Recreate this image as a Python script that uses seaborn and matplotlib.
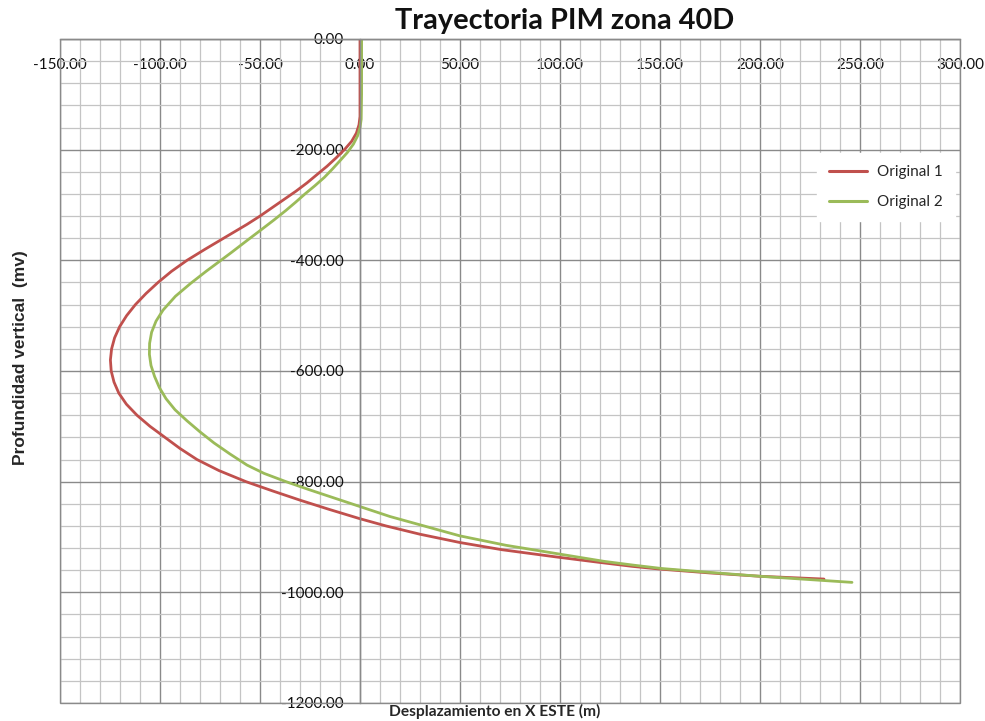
import matplotlib
matplotlib.use("Agg")
import matplotlib.pyplot as plt
from matplotlib.patches import Rectangle
from matplotlib.ticker import MultipleLocator, FixedLocator
import seaborn as sns
import pandas as pd

# Well trajectories: horizontal displacement (m, east) vs vertical depth (m)
orig1_x = [0, 0, 0, -0.5, -1.8, -4.2, -7.8, -12, -16.5, -21.5, -26.5, -32, -38, -44, -50,
           -56.5, -63.5, -70.5, -77.5, -86.5, -94.3, -101, -107, -112.3, -116.7, -120.2,
           -122.7, -124.2, -124.8, -124.4, -123, -120.6, -116.8, -111.5, -105, -97.5, -90,
           -81.5, -70.5, -57, -43.5, -29.5, -15.5, 0, 13, 30, 50, 71, 98, 120, 136, 150,
           175, 200, 232]
orig1_y = [0, -100, -140, -155, -170, -185, -200, -215, -230, -245, -260, -275, -290, -305, -320,
           -335, -350, -365, -380, -400, -420, -440, -460, -480, -500, -520,
           -540, -560, -580, -600, -620, -640, -660, -680, -700, -720, -740,
           -760, -780, -800, -817, -834, -850, -867, -880, -895, -910, -923, -936, -946, -953, -958,
           -965, -971, -976]

orig2_x = [0.8, 0.8, 0.6, 0, -1.2, -3.3, -6.3, -10, -13.8, -17.8, -22.5, -27.5, -32.2, -37.1,
           -43, -49.5, -56.8, -64, -70.3, -77, -84.8, -92.3, -98.5, -102, -104.2, -105.2,
           -105.3, -104.5, -102.7, -100.3, -97, -92.5, -86.5, -80, -73, -65, -56.5, -48, -37,
           -25, -12.5, 0, 15, 32, 50, 73, 100, 122, 137, 151, 175, 200, 225, 246]
orig2_y = [0, -100, -145, -160, -175, -190, -205, -220, -235, -250, -265, -280, -295, -310,
           -327, -345, -365, -385, -402, -420, -442, -465, -490, -510, -530, -550,
           -570, -590, -610, -630, -650, -670, -690, -710, -730, -750, -770, -785, -800,
           -815, -830, -845, -863, -880, -898, -915, -931, -944, -951, -957, -964, -971, -977, -982]

series_names = ["Original 1", "Original 2"]
series_colors = ["#C0504D", "#9BBB59"]

x_ticks = [-150, -100, -50, 0, 50, 100, 150, 200, 250, 300]
y_ticks = [0, -200, -400, -600, -800, -1000, -1200]

title = "Trayectoria PIM zona 40D"
x_label = "Desplazamiento en X ESTE (m)"
y_label = "Profundidad vertical  (mv)"

df = pd.concat([
    pd.DataFrame({"x": orig1_x, "y": orig1_y, "serie": series_names[0]}),
    pd.DataFrame({"x": orig2_x, "y": orig2_y, "serie": series_names[1]}),
], ignore_index=True)

sns.set_style("white")
plt.rcParams["font.family"] = ["Lato", "DejaVu Sans"]

fig = plt.figure(figsize=(9.85, 7.21), dpi=100)
ax = fig.add_axes([60 / 985, 1 - 703 / 721, 900 / 985, 664 / 721])

major_c = "#8A8A8A"
minor_c = "#C4C4C4"

ax.set_xlim(-150, 300)
ax.set_ylim(-1200, 0)
ax.xaxis.set_major_locator(FixedLocator(x_ticks))
ax.yaxis.set_major_locator(FixedLocator(y_ticks))
ax.xaxis.set_minor_locator(MultipleLocator(10))
ax.yaxis.set_minor_locator(MultipleLocator(40))
ax.grid(which="minor", color=minor_c, lw=0.9, zorder=0)
ax.grid(which="major", color=major_c, lw=1.0, zorder=0)
ax.set_axisbelow(True)

sns.lineplot(data=df, x="x", y="y", hue="serie", hue_order=series_names,
             palette=series_colors, sort=False, estimator=None, lw=2.0, ax=ax,
             legend=True)

# axes cross at the origin, like a spreadsheet chart
ax.spines["left"].set_position(("data", 0))
ax.spines["bottom"].set_position(("data", 0))
for s in ["left", "bottom"]:
    ax.spines[s].set_color(major_c)
    ax.spines[s].set_linewidth(1.0)
for s in ["top", "right"]:
    ax.spines[s].set_visible(False)
ax.add_patch(Rectangle((0, 0), 1, 1, transform=ax.transAxes, fill=False,
                       ec=major_c, lw=1.0, clip_on=False, zorder=3))

ax.set_xticklabels([f"{v:.2f}" for v in x_ticks])
ax.set_yticklabels([f"{v:.2f}" for v in y_ticks])
ax.tick_params(axis="x", which="both", length=0, pad=14, labelsize=11, labelcolor="#111111")
ax.tick_params(axis="y", which="both", length=0, pad=12, labelsize=11, labelcolor="#111111")

ax.set_xlabel(x_label, fontsize=11.2, fontweight="bold", va="top")
ax.xaxis.set_label_coords(0.483, -0.002)
ax.set_ylabel(y_label, fontsize=12.5, fontweight="bold",
              family=["Liberation Sans", "DejaVu Sans"], va="center")
ax.yaxis.set_label_coords(-0.044, 0.52)

fig.text(565 / 985, 1 - 21 / 721, title, ha="center", va="center",
         fontsize=20.8, fontweight="bold", color="#111111")

handles, labels = ax.get_legend_handles_labels()
leg = ax.legend(handles, labels, loc="center left",
                bbox_to_anchor=(817 / 985, 1 - 187 / 721), bbox_transform=fig.transFigure,
                frameon=True, fontsize=11, handlelength=2.5, handletextpad=0.65,
                labelspacing=1.05, borderpad=0.8, borderaxespad=0)
leg.get_frame().set_facecolor("white")
leg.get_frame().set_edgecolor("white")
leg.get_frame().set_alpha(1)
for line in leg.get_lines():
    line.set_linewidth(2.2)

fig.savefig("out.png", dpi=100, facecolor="white")
